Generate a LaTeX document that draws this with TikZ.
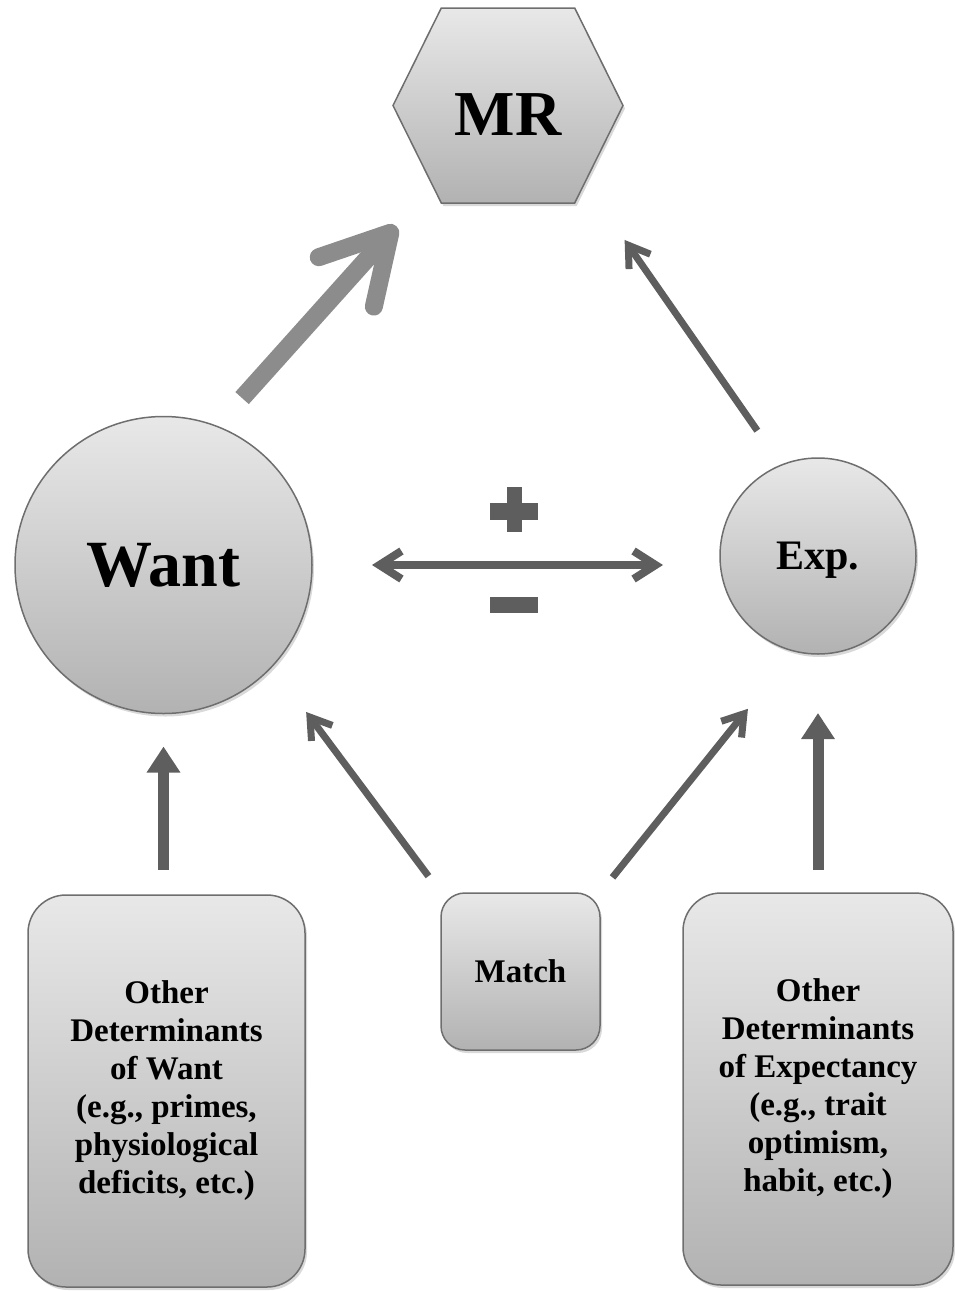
\documentclass[tikz,border=0pt]{standalone}
\usepackage{fontspec}
\setmainfont{Liberation Serif}
\usetikzlibrary{arrows.meta,shapes,backgrounds,shadows,calc}

\definecolor{shadetop}{HTML}{E8E8E8}
\definecolor{shadebot}{HTML}{B2B2B2}
\definecolor{rim}{HTML}{6E6E6E}
\definecolor{darkarrow}{HTML}{5E5E5E}
\definecolor{lightarrow}{HTML}{8C8C8C}

\tikzset{
	shapefill/.style={draw=rim, line width=1.5pt, top color=shadetop, bottom color=shadebot,
		drop shadow={opacity=0.3, shadow xshift=2pt, shadow yshift=-3pt}},
	bubble/.style={shapefill, circle, inner sep=0pt, outer sep=0pt, text depth=0pt, font=\bfseries},
	card/.style={shapefill, rectangle, inner sep=0pt, outer sep=0pt, align=center,
		font={\fontsize{33}{38}\selectfont\bfseries}},
	thinarrow/.style={darkarrow, line width=7pt, -{Straight Barb[length=20pt,width=26pt]}},
	uparrow/.style={darkarrow, line width=11pt, -{Triangle[length=26pt,width=32pt]}},
	twoway/.style={darkarrow, line width=8pt, {Straight Barb[length=22pt,width=28pt]}-{Straight Barb[length=22pt,width=28pt]}},
	bigarrow/.style={lightarrow, line width=18pt, -{Straight Barb[length=66pt,width=74pt,round]}}
}

\begin{document}
\begin{tikzpicture}[x=1pt,y=-1pt]
	\useasboundingbox (0,0) rectangle (955,1291);

	\node[minimum width=230pt, minimum height=195pt, inner sep=0pt, outer sep=0pt, text height=60pt,
		font={\fontsize{64}{70}\selectfont\bfseries}] (mr) at (508,105.5) {MR};
	\begin{scope}[on background layer]
		\path[shapefill] (mr.west) -- ($(mr.north west)!.21!(mr.north east)$)
			-- ($(mr.north west)!.79!(mr.north east)$) -- (mr.east)
			-- ($(mr.south west)!.79!(mr.south east)$) -- ($(mr.south west)!.21!(mr.south east)$) -- cycle;
	\end{scope}

	\node[bubble, minimum size=297pt, font={\fontsize{66}{70}\selectfont\bfseries}] (want) at (163.5,565) {Want};
	\node[bubble, minimum size=196pt, font={\fontsize{42}{46}\selectfont\bfseries}] (exp) at (818,556) {Exp.};

	\node[card, minimum width=277pt, minimum height=392pt, rounded corners=38pt] (othw) at (166.5,1091)
		{Other\\Determinants\\of Want\\(e.g., primes,\\physiological\\deficits, etc.)};
	\node[card, minimum width=159pt, minimum height=157pt, rounded corners=24pt] (match) at (520.5,971.5) {Match};
	\node[card, minimum width=270pt, minimum height=392pt, rounded corners=38pt] (othe) at (818,1089)
		{Other\\Determinants\\of Expectancy\\(e.g., trait\\optimism,\\habit, etc.)};

	\draw[bigarrow, shorten <=38pt, shorten >=31pt] (want.69) -- (mr.-133);
	\draw[thinarrow, shorten <=42pt, shorten >=45pt] (exp.112) -- (mr.-47);
	\draw[twoway, shorten <=60pt, shorten >=57pt] (want.east) -- (want.east -| exp.west);

	\fill[darkarrow] (490,503) rectangle (538,520);
	\fill[darkarrow] (507,487) rectangle (522,532);
	\fill[darkarrow] (490,597) rectangle (538,613);

	\draw[uparrow, shorten <=25pt, shorten >=33pt] (othw.north -| want.south) -- (want.south);
	\draw[thinarrow, shorten <=21pt, shorten >=57pt] (match.north west) -- (want.-43);
	\draw[thinarrow, shorten <=20pt, shorten >=74pt] (match.north east) -- (exp.-104);
	\draw[uparrow, shorten <=23pt, shorten >=59pt] (othe.north -| exp.south) -- (exp.south);
\end{tikzpicture}
\end{document}
